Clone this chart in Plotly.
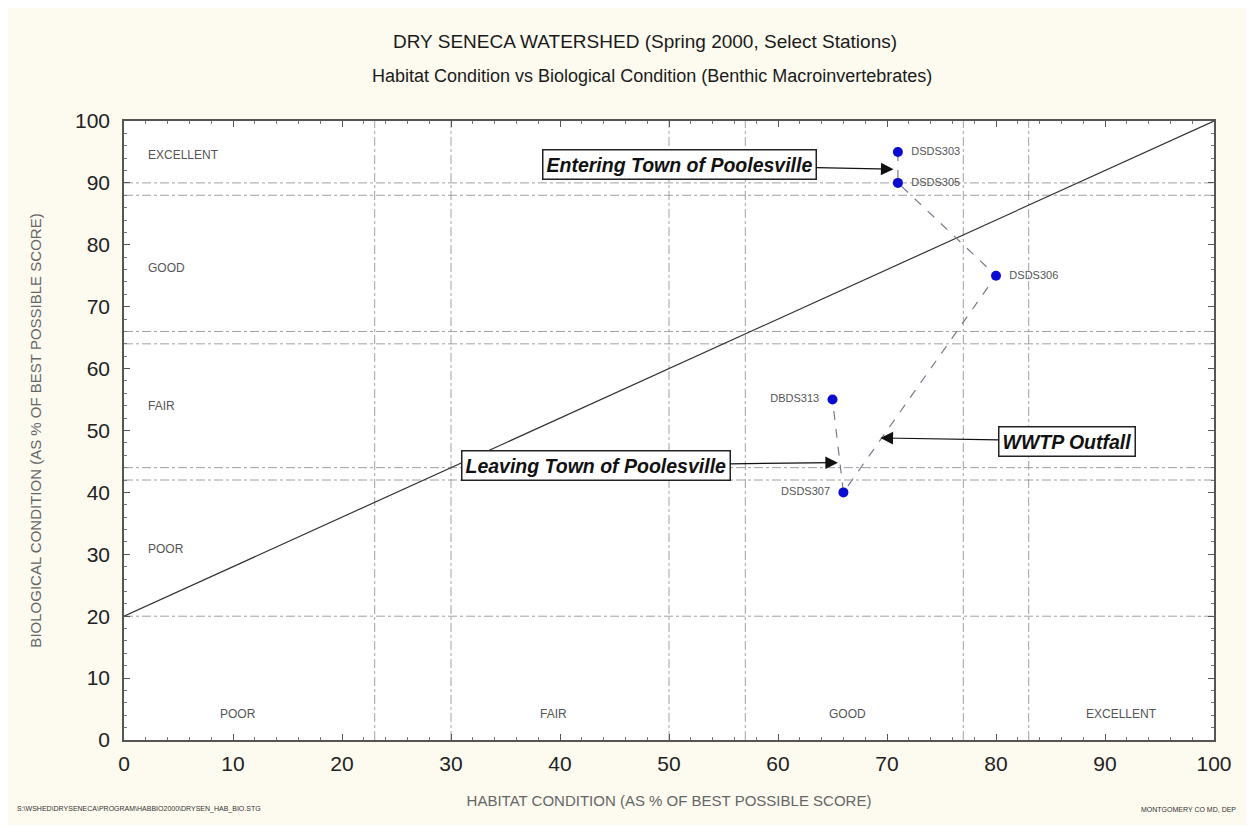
import plotly.graph_objects as go

# Station data (habitat %, biological %)
stations = ["DSDS303", "DSDS305", "DSDS306", "DSDS307", "DBDS313"]
habitat = [71, 71, 80, 66, 65]
biological = [95, 90, 75, 40, 55]
label_pos = ["middle right", "middle right", "middle right", "middle left", "middle left"]

# Condition class boundaries
habitat_breaks = [23, 30, 50, 57, 77, 83]
bio_breaks = [20, 42, 44, 64, 66, 88, 90]

# Reference line (habitat vs expected biology)
ref_x = [0, 100]
ref_y = [20, 100]

# Class labels
bio_classes = ["EXCELLENT", "GOOD", "FAIR", "POOR"]
bio_class_y = [94.5, 76.3, 54, 30.9]
hab_classes = ["POOR", "FAIR", "GOOD", "EXCELLENT"]
hab_class_x = [10.5, 39.4, 66.4, 91.5]

ticks = [0, 10, 20, 30, 40, 50, 60, 70, 80, 90, 100]

FONT = "Liberation Sans, Arial, sans-serif"
GRID = "#a0a0a0"

fig = go.Figure()

# Reference diagonal
fig.add_trace(go.Scatter(
    x=ref_x, y=ref_y, mode="lines",
    line=dict(color="#333333", width=1.2),
    hoverinfo="skip", showlegend=False
))

# Station path
fig.add_trace(go.Scatter(
    x=habitat, y=biological, mode="lines",
    line=dict(color="#7a7a8a", width=1.2, dash="dash"),
    hoverinfo="skip", showlegend=False
))

# Station points
fig.add_trace(go.Scatter(
    x=habitat, y=biological, mode="markers+text",
    marker=dict(color="#0a0ad0", size=10),
    text=["  " + s + "  " for s in stations],
    textposition=label_pos,
    textfont=dict(family=FONT, size=11, color="#555555"),
    showlegend=False
))

# Boundary lines
for xv in habitat_breaks:
    fig.add_shape(type="line", xref="x", yref="y", x0=xv, x1=xv, y0=0, y1=100,
                  line=dict(color=GRID, width=1, dash="dashdot"), layer="below")
for yv in bio_breaks:
    fig.add_shape(type="line", xref="x", yref="y", x0=0, x1=100, y0=yv, y1=yv,
                  line=dict(color=GRID, width=1, dash="dashdot"), layer="below")

# Class labels
for name, yv in zip(bio_classes, bio_class_y):
    fig.add_annotation(x=2, y=yv, text=name, showarrow=False, xanchor="left",
                       font=dict(family=FONT, size=12, color="#555555"))
for name, xv in zip(hab_classes, hab_class_x):
    fig.add_annotation(x=xv, y=4.2, text=name, showarrow=False,
                       font=dict(family=FONT, size=12, color="#555555"))

# Callouts
callouts = [
    ("Entering Town of Poolesville", 70.6, 92.2, 51.0, 92.9),
    ("Leaving Town of Poolesville", 65.5, 44.8, 43.3, 44.4),
    ("WWTP Outfall", 69.4, 48.8, 86.5, 48.3),
]
for text, x, y, ax, ay in callouts:
    fig.add_annotation(
        x=x, y=y, ax=ax, ay=ay, axref="x", ayref="y",
        text="<b><i>" + text + "</i></b>",
        showarrow=True, arrowhead=2, arrowsize=2.1, arrowwidth=1.2, arrowcolor="#111111",
        font=dict(family=FONT, size=19.5, color="#111111"),
        bgcolor="white", bordercolor="#222222", borderwidth=1.5, borderpad=3
    )

# Titles
fig.add_annotation(xref="paper", yref="paper", x=0.478, y=1.129, yanchor="middle",
                   text="DRY SENECA WATERSHED (Spring 2000, Select Stations)",
                   showarrow=False, font=dict(family=FONT, size=19, color="#1a1a1a"))
fig.add_annotation(xref="paper", yref="paper", x=0.484, y=1.073, yanchor="middle",
                   text="Habitat Condition vs Biological Condition (Benthic Macroinvertebrates)",
                   showarrow=False, font=dict(family=FONT, size=18, color="#1a1a1a"))

# Footer notes
fig.add_annotation(xref="paper", yref="paper", x=-0.1, y=-0.121, xanchor="left",
                   text="S:\\WSHED\\DRYSENECA\\PROGRAM\\HABBIO2000\\DRYSEN_HAB_BIO.STG",
                   showarrow=False, font=dict(family=FONT, size=7, color="#333333"))
fig.add_annotation(xref="paper", yref="paper", x=1.022, y=-0.121, xanchor="right",
                   text="MONTGOMERY CO MD, DEP",
                   showarrow=False, font=dict(family=FONT, size=7, color="#333333"))

fig.update_layout(
    width=1254, height=825,
    paper_bgcolor="#fdfaf0",
    plot_bgcolor="white",
    margin=dict(l=116, r=48, t=113, b=93),
    font=dict(family=FONT),
    showlegend=False
)

axis_common = dict(
    range=[0, 100], tickvals=ticks, showgrid=False, zeroline=False,
    showline=True, linecolor="#555555", linewidth=1.5, mirror="allticks",
    ticks="inside", ticklen=6, tickcolor="#555555",
    minor=dict(ticks="inside", dtick=2, ticklen=3, tickcolor="#777777", showgrid=False),
    tickfont=dict(family=FONT, size=21, color="#222222"),
)
fig.update_xaxes(
    **axis_common,
    ticklabelstandoff=4,
    title=dict(text="HABITAT CONDITION (AS % OF BEST POSSIBLE SCORE)",
               font=dict(family=FONT, size=15, color="#666666"), standoff=22)
)
fig.update_yaxes(
    **axis_common,
    ticklabelstandoff=8,
    title=dict(text="BIOLOGICAL CONDITION (AS % OF BEST POSSIBLE SCORE)",
               font=dict(family=FONT, size=15, color="#666666"), standoff=30)
)

fig.write_html("out.html")
